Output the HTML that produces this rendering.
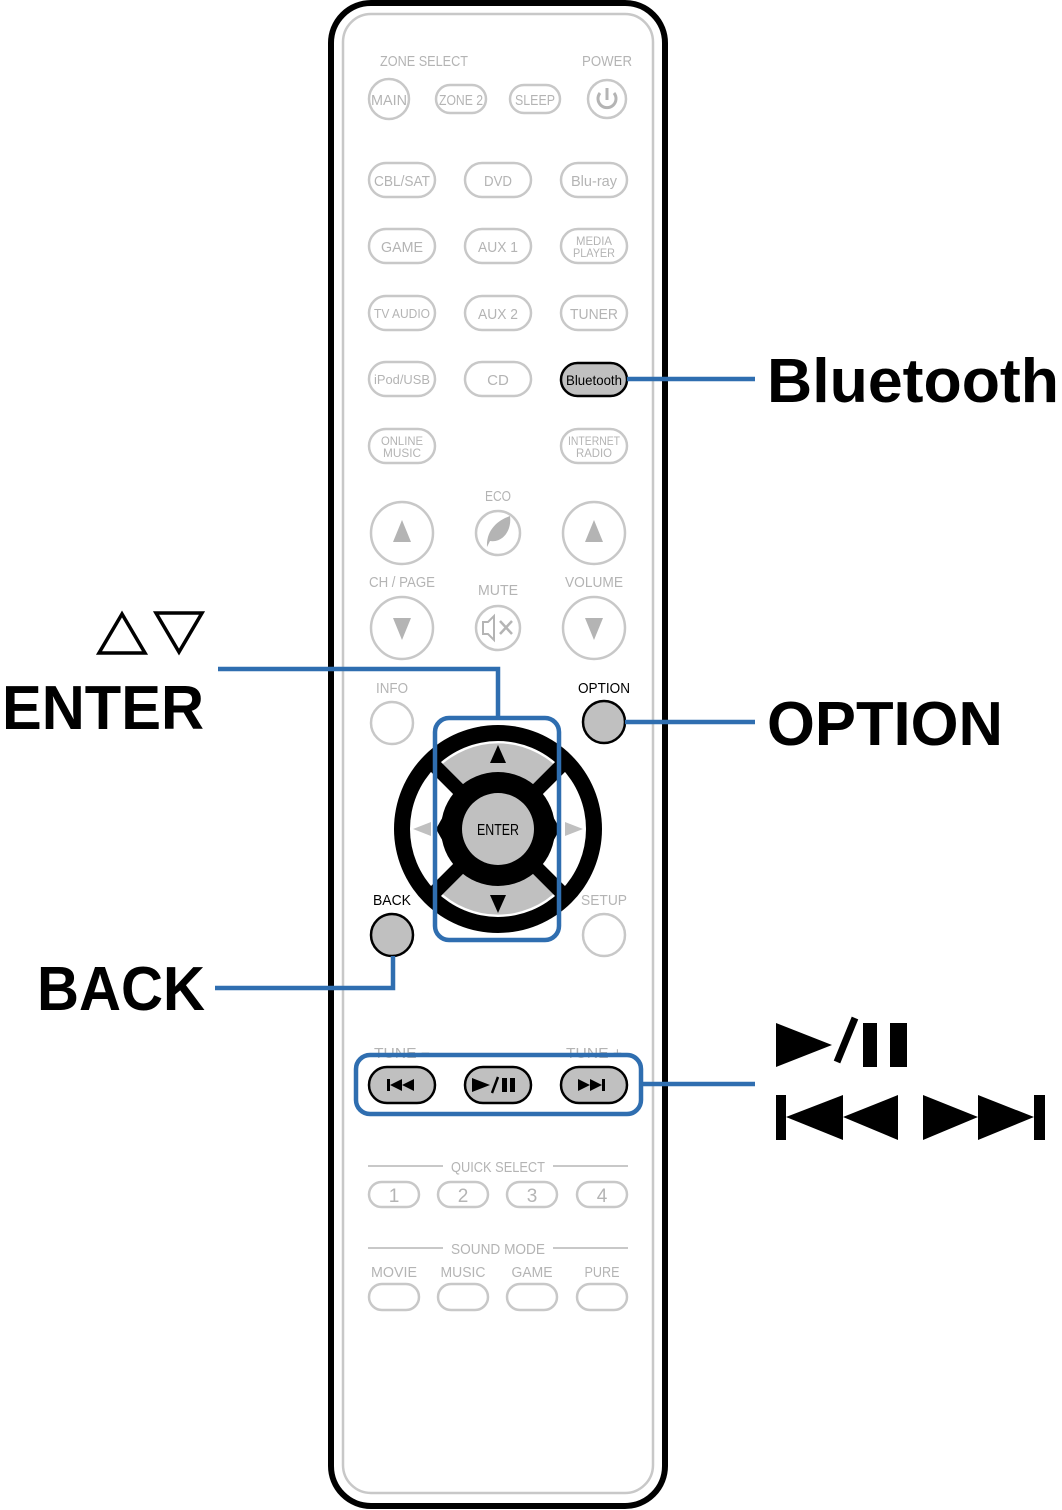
<!DOCTYPE html>
<html><head><meta charset="utf-8"><style>
html,body{margin:0;padding:0;background:#fff;}
svg{display:block;}
.g{fill:#b4b4b4;font-family:"Liberation Sans Narrow","Liberation Sans",sans-serif;font-size:15px;text-anchor:middle;}
.k{fill:#000;font-family:"Liberation Sans Narrow","Liberation Sans",sans-serif;font-size:15px;text-anchor:middle;}
.b{fill:none;stroke:#c8c8c8;stroke-width:2.5;}
.f{fill:#c0c0c0;stroke:#000;stroke-width:2.5;}
.big{fill:#000;font-family:"Liberation Sans",sans-serif;font-weight:bold;font-size:62px;}
.bl{fill:none;stroke:#2f6eb0;stroke-width:4.5;}
</style></head><body>
<svg width="1062" height="1510" viewBox="0 0 1062 1510" xmlns="http://www.w3.org/2000/svg">
<rect x="331" y="3" width="334" height="1503" rx="40" fill="#fff" stroke="#000" stroke-width="6"/>
<rect x="343" y="14" width="310" height="1479" rx="28" fill="none" stroke="#c8c8c8" stroke-width="2.5"/>

<text class="g" x="424" y="66" textLength="88" lengthAdjust="spacingAndGlyphs">ZONE SELECT</text>
<text class="g" x="607" y="66" textLength="50" lengthAdjust="spacingAndGlyphs">POWER</text>
<circle class="b" cx="389" cy="99" r="20"/><text class="g" x="389" y="105" textLength="36" lengthAdjust="spacingAndGlyphs">MAIN</text>
<rect class="b" x="436" y="85" width="50" height="28" rx="14"/><text class="g" x="461" y="105" textLength="44" lengthAdjust="spacingAndGlyphs">ZONE 2</text>
<rect class="b" x="510" y="85" width="50" height="28" rx="14"/><text class="g" x="535" y="105" textLength="40" lengthAdjust="spacingAndGlyphs">SLEEP</text>
<circle class="b" cx="607" cy="99" r="19"/>
<path d="M600 93 A9 9 0 1 0 614 93" fill="none" stroke="#b4b4b4" stroke-width="3"/><line x1="607" y1="88" x2="607" y2="100" stroke="#b4b4b4" stroke-width="3"/>

<g>
<rect class="b" x="369" y="163" width="66" height="34" rx="17"/><text class="g" x="402" y="186" textLength="56" lengthAdjust="spacingAndGlyphs">CBL/SAT</text>
<rect class="b" x="465" y="163" width="66" height="34" rx="17"/><text class="g" x="498" y="186" textLength="28" lengthAdjust="spacingAndGlyphs">DVD</text>
<rect class="b" x="561" y="163" width="66" height="34" rx="17"/><text class="g" x="594" y="186" textLength="46" lengthAdjust="spacingAndGlyphs">Blu-ray</text>

<rect class="b" x="369" y="229" width="66" height="34" rx="17"/><text class="g" x="402" y="252" textLength="42" lengthAdjust="spacingAndGlyphs">GAME</text>
<rect class="b" x="465" y="229" width="66" height="34" rx="17"/><text class="g" x="498" y="252" textLength="40" lengthAdjust="spacingAndGlyphs">AUX 1</text>
<rect class="b" x="561" y="229" width="66" height="34" rx="17"/><text class="g" x="594" y="245" style="font-size:12px" textLength="36" lengthAdjust="spacingAndGlyphs">MEDIA</text><text class="g" x="594" y="257" style="font-size:12px" textLength="42" lengthAdjust="spacingAndGlyphs">PLAYER</text>

<rect class="b" x="369" y="296" width="66" height="34" rx="17"/><text class="g" x="402" y="318" style="font-size:13px" textLength="56" lengthAdjust="spacingAndGlyphs">TV AUDIO</text>
<rect class="b" x="465" y="296" width="66" height="34" rx="17"/><text class="g" x="498" y="319" textLength="40" lengthAdjust="spacingAndGlyphs">AUX 2</text>
<rect class="b" x="561" y="296" width="66" height="34" rx="17"/><text class="g" x="594" y="319" textLength="48" lengthAdjust="spacingAndGlyphs">TUNER</text>

<rect class="b" x="369" y="362" width="66" height="34" rx="17"/><text class="g" x="402" y="384" style="font-size:13px" textLength="56" lengthAdjust="spacingAndGlyphs">iPod/USB</text>
<rect class="b" x="465" y="362" width="66" height="34" rx="17"/><text class="g" x="498" y="385">CD</text>
<rect class="f" x="561" y="363" width="66" height="33" rx="16.5"/><text class="k" x="594" y="385" style="font-size:14px" textLength="56" lengthAdjust="spacingAndGlyphs">Bluetooth</text>

<rect class="b" x="369" y="429" width="66" height="34" rx="17"/><text class="g" x="402" y="445" style="font-size:12px" textLength="42" lengthAdjust="spacingAndGlyphs">ONLINE</text><text class="g" x="402" y="457" style="font-size:12px" textLength="38" lengthAdjust="spacingAndGlyphs">MUSIC</text>
<rect class="b" x="561" y="429" width="66" height="34" rx="17"/><text class="g" x="594" y="445" style="font-size:12px" textLength="52" lengthAdjust="spacingAndGlyphs">INTERNET</text><text class="g" x="594" y="457" style="font-size:12px" textLength="36" lengthAdjust="spacingAndGlyphs">RADIO</text>
</g>

<text class="g" x="498" y="501" textLength="26" lengthAdjust="spacingAndGlyphs">ECO</text>
<circle class="b" cx="498" cy="533" r="22"/>
<path d="M487 547 C486 530 498 520 510 516 C512 530 503 543 490 541 Z" fill="#b4b4b4"/>
<circle class="b" cx="402" cy="533" r="31"/><polygon points="402,520 393,542 411,542" fill="#b4b4b4"/>
<circle class="b" cx="594" cy="533" r="31"/><polygon points="594,520 585,542 603,542" fill="#b4b4b4"/>
<text class="g" x="402" y="587" textLength="66" lengthAdjust="spacingAndGlyphs">CH / PAGE</text>
<text class="g" x="594" y="587" textLength="58" lengthAdjust="spacingAndGlyphs">VOLUME</text>
<text class="g" x="498" y="595" textLength="40" lengthAdjust="spacingAndGlyphs">MUTE</text>
<circle class="b" cx="498" cy="628" r="22"/>
<path d="M483 622 h5 l6 -6 v24 l-6 -6 h-5 Z" fill="none" stroke="#b4b4b4" stroke-width="2"/>
<path d="M500 621 l12 13 M512 621 l-12 13" stroke="#b4b4b4" stroke-width="2.5"/>
<circle class="b" cx="402" cy="628" r="31"/><polygon points="402,640 393,618 411,618" fill="#b4b4b4"/>
<circle class="b" cx="594" cy="628" r="31"/><polygon points="594,640 585,618 603,618" fill="#b4b4b4"/>

<text class="g" x="392" y="693" textLength="32" lengthAdjust="spacingAndGlyphs">INFO</text>
<circle class="b" cx="392" cy="723" r="21"/>
<text class="k" x="604" y="693" textLength="52" lengthAdjust="spacingAndGlyphs">OPTION</text>
<circle class="f" cx="604" cy="722" r="21"/>

<circle cx="498" cy="829" r="104" fill="#000"/>
<circle cx="498" cy="829" r="88" fill="#fff"/>
<path d="M437.6 768.6 A85 85 0 0 1 558.4 768.6 L536.2 790.8 A54 54 0 0 0 459.8 790.8 Z" fill="#c0c0c0"/>
<path d="M437.6 889.4 A85 85 0 0 0 558.4 889.4 L536.2 867.2 A54 54 0 0 1 459.8 867.2 Z" fill="#c0c0c0"/>
<g stroke="#000" stroke-width="14">
<line x1="498" y1="829" x2="433" y2="764"/><line x1="498" y1="829" x2="563" y2="764"/>
<line x1="498" y1="829" x2="433" y2="894"/><line x1="498" y1="829" x2="563" y2="894"/>
</g>
<path d="M458 790 L538 790 L560 829 L538 868 L458 868 L436 829 Z" fill="#000"/>
<circle cx="498" cy="829" r="57" fill="#000"/>
<circle cx="498" cy="829" r="36" fill="#c0c0c0"/>
<text class="k" x="498" y="835" style="font-size:16px" textLength="42" lengthAdjust="spacingAndGlyphs">ENTER</text>
<polygon points="498,745 490,763 506,763" fill="#000"/>
<polygon points="498,913 490,895 506,895" fill="#000"/>
<polygon points="413,829 431,822 431,836" fill="#c0c0c0"/>
<polygon points="583,829 565,822 565,836" fill="#c0c0c0"/>

<text class="k" x="392" y="905" textLength="38" lengthAdjust="spacingAndGlyphs">BACK</text>
<circle class="f" cx="392" cy="935" r="21"/>
<text class="g" x="604" y="905" textLength="46" lengthAdjust="spacingAndGlyphs">SETUP</text>
<circle class="b" cx="604" cy="935" r="21"/>

<text class="g" x="402" y="1058" textLength="56" lengthAdjust="spacingAndGlyphs">TUNE −</text>
<text class="g" x="594" y="1058" textLength="56" lengthAdjust="spacingAndGlyphs">TUNE +</text>
<rect class="f" x="369" y="1067" width="66" height="36" rx="18"/>
<rect class="f" x="465" y="1067" width="66" height="36" rx="18"/>
<rect class="f" x="561" y="1067" width="66" height="36" rx="18"/>
<rect x="387" y="1079" width="3" height="12"/><polygon points="390,1085 402,1079 402,1091"/><polygon points="402,1085 414,1079 414,1091"/>
<polygon points="472,1078 490,1085 472,1092"/><path d="M492 1093 L498 1077" stroke="#000" stroke-width="2.5"/><rect x="502" y="1078" width="5" height="14"/><rect x="510" y="1078" width="5" height="14"/>
<polygon points="578,1079 590,1085 578,1091"/><polygon points="590,1079 602,1085 590,1091"/><rect x="602" y="1079" width="3" height="12"/>

<line x1="368" y1="1166" x2="443" y2="1166" stroke="#c8c8c8" stroke-width="2"/>
<line x1="553" y1="1166" x2="628" y2="1166" stroke="#c8c8c8" stroke-width="2"/>
<text class="g" x="498" y="1172" textLength="94" lengthAdjust="spacingAndGlyphs">QUICK SELECT</text>
<rect class="b" x="369" y="1182" width="50" height="25" rx="12.5"/><text class="g" x="394" y="1202" style="font-size:19px">1</text>
<rect class="b" x="438" y="1182" width="50" height="25" rx="12.5"/><text class="g" x="463" y="1202" style="font-size:19px">2</text>
<rect class="b" x="507" y="1182" width="50" height="25" rx="12.5"/><text class="g" x="532" y="1202" style="font-size:19px">3</text>
<rect class="b" x="577" y="1182" width="50" height="25" rx="12.5"/><text class="g" x="602" y="1202" style="font-size:19px">4</text>

<line x1="368" y1="1248" x2="443" y2="1248" stroke="#c8c8c8" stroke-width="2"/>
<line x1="553" y1="1248" x2="628" y2="1248" stroke="#c8c8c8" stroke-width="2"/>
<text class="g" x="498" y="1254" textLength="94" lengthAdjust="spacingAndGlyphs">SOUND MODE</text>
<text class="g" x="394" y="1277" textLength="46" lengthAdjust="spacingAndGlyphs">MOVIE</text>
<text class="g" x="463" y="1277" textLength="45" lengthAdjust="spacingAndGlyphs">MUSIC</text>
<text class="g" x="532" y="1277" textLength="41" lengthAdjust="spacingAndGlyphs">GAME</text>
<text class="g" x="602" y="1277" textLength="35" lengthAdjust="spacingAndGlyphs">PURE</text>
<rect class="b" x="369" y="1284" width="50" height="26" rx="13"/>
<rect class="b" x="438" y="1284" width="50" height="26" rx="13"/>
<rect class="b" x="507" y="1284" width="50" height="26" rx="13"/>
<rect class="b" x="577" y="1284" width="50" height="26" rx="13"/>

<line class="bl" x1="627" y1="379" x2="755" y2="379"/>
<line class="bl" x1="625" y1="722" x2="755" y2="722"/>
<rect class="bl" x="435" y="718" width="124" height="222" rx="14"/>
<polyline class="bl" points="498,718 498,669 218,669"/>
<polyline class="bl" points="393,956 393,988 215,988"/>
<rect class="bl" x="356" y="1055" width="285" height="59" rx="14"/>
<line class="bl" x1="641" y1="1084" x2="755" y2="1084"/>

<text class="big" x="767" y="402" textLength="292" lengthAdjust="spacingAndGlyphs">Bluetooth</text>
<text class="big" x="767" y="745" textLength="236" lengthAdjust="spacingAndGlyphs">OPTION</text>
<text class="big" x="2" y="729" textLength="202" lengthAdjust="spacingAndGlyphs">ENTER</text>
<text class="big" x="37" y="1010" textLength="168" lengthAdjust="spacingAndGlyphs">BACK</text>
<polygon points="122,614 99,653 145,653" fill="none" stroke="#000" stroke-width="3.5"/>
<polygon points="156,613 202,613 179,652" fill="none" stroke="#000" stroke-width="3.5"/>

<polygon points="776,1023 832,1045 776,1067"/>
<path d="M837 1062 L855 1018" stroke="#000" stroke-width="7"/>
<rect x="863" y="1023" width="14" height="44"/><rect x="890" y="1023" width="17" height="44"/>
<rect x="776" y="1095" width="10" height="45"/>
<polygon points="786,1117 843,1095 843,1140"/>
<polygon points="843,1117 898,1095 898,1140"/>
<polygon points="923,1095 978,1117 923,1140"/>
<polygon points="978,1095 1034,1117 978,1140"/>
<rect x="1034" y="1095" width="11" height="45"/>
</svg>
</body></html>
